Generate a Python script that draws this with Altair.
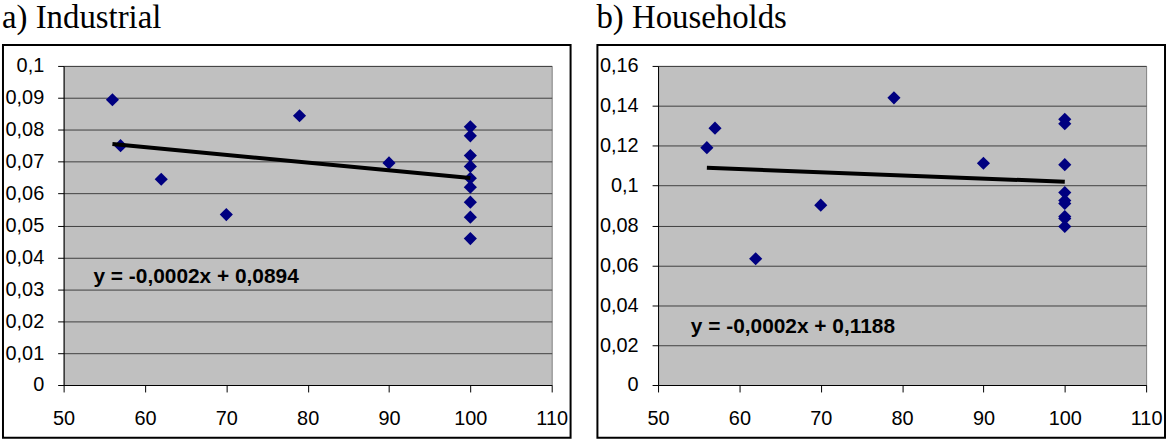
import altair as alt
import pandas as pd

# ---- data ----
ind_x = [56, 57, 62, 70, 79, 90, 100, 100, 100, 100, 100, 100, 100, 100, 100]
ind_y = [0.0894, 0.0750, 0.0645, 0.0534, 0.0844, 0.0696,
         0.0809, 0.0781, 0.0719, 0.0685, 0.0648, 0.0620, 0.0573, 0.0526, 0.0459]

hh_x = [56, 57, 62, 70, 79, 90, 100, 100, 100, 100, 100, 100, 100, 100, 100]
hh_y = [0.1190, 0.1288, 0.0633, 0.0902, 0.1440, 0.1112,
        0.1332, 0.1310, 0.1105, 0.0965, 0.0925, 0.0910, 0.0845, 0.0835, 0.0795]

titles = ["a) Industrial", "b) Households"]
equations = ["y = -0,0002x + 0,0894", "y = -0,0002x + 0,1188"]
eq_x = [53.67, 54.03]
eq_y = [0.0321, 0.0262]

x_ticks = [50, 60, 70, 80, 90, 100, 110]
ind_y_ticks = [0, 0.01, 0.02, 0.03, 0.04, 0.05, 0.06, 0.07, 0.08, 0.09, 0.1]
hh_y_ticks = [0, 0.02, 0.04, 0.06, 0.08, 0.1, 0.12, 0.14, 0.16]

W, H = 491, 321
FONT = "Liberation Sans"


def panel(xs, ys, ymax, yticks, title, eq, ex, ey):
    df = pd.DataFrame({"x": xs, "y": ys})
    xsc = alt.Scale(domain=[50, 110], nice=False, zero=False)
    ysc = alt.Scale(domain=[0, ymax], nice=False, zero=True)
    xax = alt.Axis(values=x_ticks, tickCount=len(x_ticks) + 5, grid=False,
                   title=None, tickSize=7,
                   tickColor="black", domainColor="black", labelFont=FONT,
                   labelFontSize=20, labelColor="black", labelPadding=17,
                   labelFlush=False, labelOverlap=False)
    yax = alt.Axis(values=yticks, tickCount=len(yticks) + 5, grid=True,
                   gridColor="#404040", gridWidth=1,
                   title=None, tickSize=6, tickColor="black", domainColor="black",
                   labelFont=FONT, labelFontSize=20, labelColor="black",
                   labelPadding=14, labelOverlap=False, labelFlush=False,
                   labelExpr="replace(format(datum.value, '.2~f'), '.', ',')")
    base = alt.Chart(df)
    pts = base.mark_point(shape="diamond", filled=True, color="#000080",
                          size=175, opacity=1).encode(
        x=alt.X("x:Q", scale=xsc, axis=xax),
        y=alt.Y("y:Q", scale=ysc, axis=yax),
    )
    line = base.transform_regression("x", "y").mark_line(
        color="black", strokeWidth=4).encode(x="x:Q", y="y:Q")
    txt = alt.Chart(pd.DataFrame({"x": [ex], "y": [ey], "t": [eq]})).mark_text(
        align="left", baseline="alphabetic", font=FONT, fontSize=21,
        fontWeight="bold", color="black").encode(x="x:Q", y="y:Q", text="t:N")
    one = alt.Chart(pd.DataFrame({"t": [title]}))
    box = one.mark_rect(fillOpacity=0, stroke="black", strokeWidth=2).encode(
        x=alt.value(-61), x2=alt.value(W + 19),
        y=alt.value(-21), y2=alt.value(H + 53))
    ttl = one.mark_text(align="left", baseline="alphabetic",
                        font="Liberation Serif", fontSize=33, color="black").encode(
        x=alt.value(-62), y=alt.value(-38), text="t:N")
    return alt.layer(pts, line, txt, box, ttl).properties(width=W, height=H)


left = panel(ind_x, ind_y, 0.1, ind_y_ticks, titles[0], equations[0], eq_x[0], eq_y[0])
right = panel(hh_x, hh_y, 0.16, hh_y_ticks, titles[1], equations[1], eq_x[1], eq_y[1])

chart = alt.hconcat(left, right, spacing=23).properties(
    padding={"left": 1, "top": 0, "right": 0, "bottom": 0},
    background="white",
).configure_view(fill="#C0C0C0", stroke="#808080", strokeWidth=1)

chart.save("out.html", embed_options={"renderer": "svg", "actions": False})
